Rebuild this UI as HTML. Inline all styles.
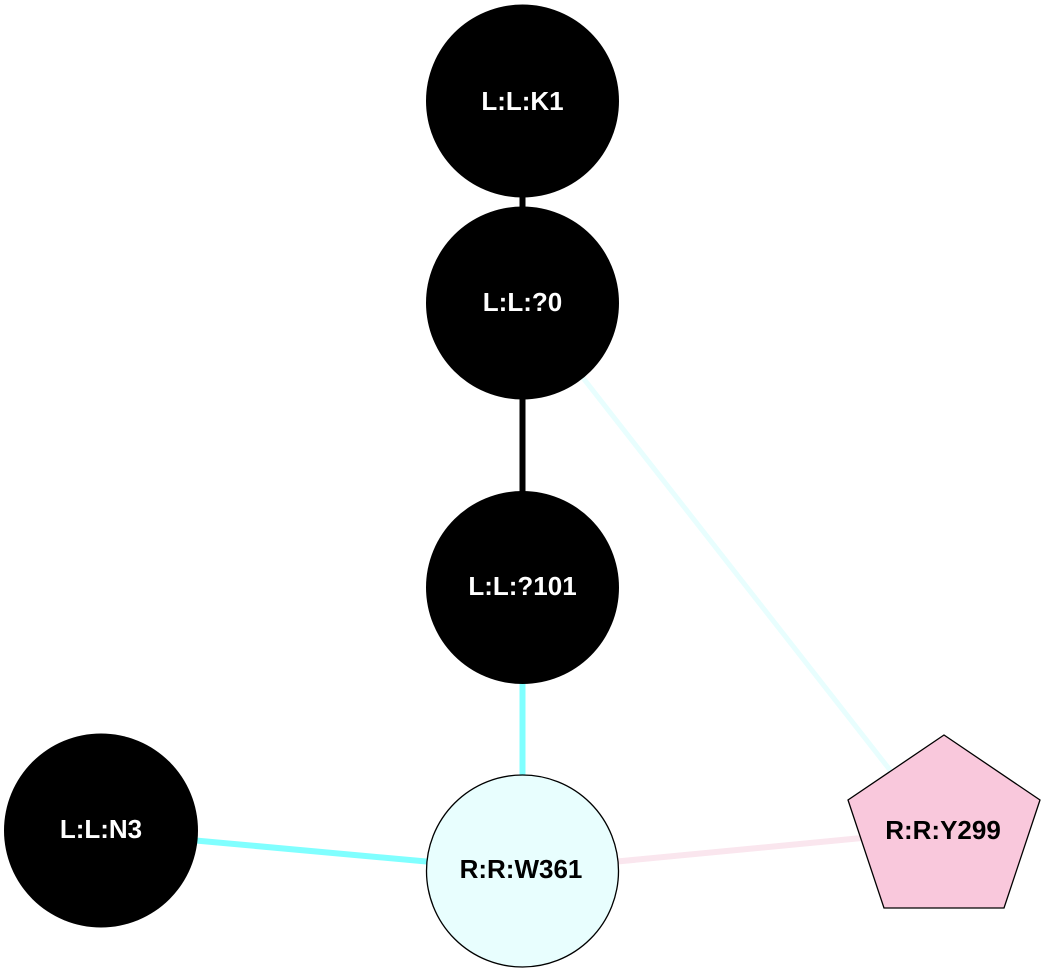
<!DOCTYPE html>
<html>
<head>
<meta charset="utf-8">
<style>
html,body{margin:0;padding:0;background:#fff;}
svg{display:block;}
text{font-family:"Liberation Sans",Arial,sans-serif;font-weight:bold;font-size:26px;text-anchor:middle;}
</style>
</head>
<body>
<svg width="1045" height="973" viewBox="0 0 1045 973" xmlns="http://www.w3.org/2000/svg">
  <rect width="1045" height="973" fill="#ffffff"/>
  <!-- edges -->
  <line x1="522.5" y1="190" x2="522.5" y2="215" stroke="#000" stroke-width="6"/>
  <line x1="522.5" y1="395" x2="522.5" y2="498" stroke="#000" stroke-width="6"/>
  <line x1="522.5" y1="680" x2="522.5" y2="780" stroke="#80ffff" stroke-width="6"/>
  <line x1="190" y1="840" x2="432" y2="862" stroke="#80ffff" stroke-width="6"/>
  <line x1="612" y1="862" x2="862" y2="838" stroke="#fae6ee" stroke-width="6"/>
  <line x1="580" y1="374" x2="897" y2="779" stroke="#e8fefe" stroke-width="5"/>
  <!-- nodes -->
  <circle cx="522.5" cy="101" r="96.5" fill="#000"/>
  <text x="522.5" y="110" fill="#fff">L:L:K1</text>
  <circle cx="522.5" cy="303" r="96.5" fill="#000"/>
  <text x="522.5" y="311" fill="#fff">L:L:?0</text>
  <circle cx="522.5" cy="587.5" r="96.5" fill="#000"/>
  <text x="522.5" y="595" fill="#fff">L:L:?101</text>
  <circle cx="101" cy="830.5" r="97" fill="#000"/>
  <text x="101" y="838" fill="#fff">L:L:N3</text>
  <circle cx="522.5" cy="871" r="96" fill="#e8fefe" stroke="#000" stroke-width="1.3"/>
  <text x="521" y="878" fill="#000">R:R:W361</text>
  <polygon points="944,735 1040,800 1004,908 884,908 848,800" fill="#f9c8dc" stroke="#000" stroke-width="1.3"/>
  <text x="943" y="839" fill="#000">R:R:Y299</text>
</svg>
</body>
</html>
